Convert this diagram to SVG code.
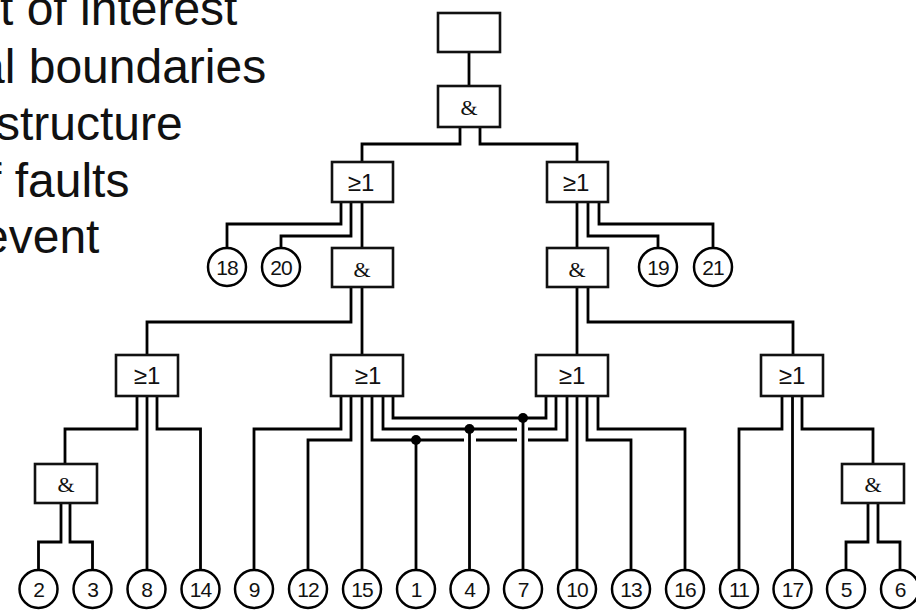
<svg xmlns="http://www.w3.org/2000/svg" width="916" height="610" viewBox="0 0 916 610">
  <style>
    .gate { fill: #fff; stroke: #111; stroke-width: 2.6; }
    .leaf { fill: #fff; stroke: #000; stroke-width: 2.5; }
    .wire { fill: none; stroke: #000; stroke-width: 2.8; stroke-linejoin: miter; stroke-linecap: butt; }
    .dot { fill: #000; }
    .or { font-family: "Liberation Sans", Arial, sans-serif; font-size: 24px; text-anchor: middle; fill: #111; }
    .and { font-family: "Liberation Serif", "Times New Roman", serif; font-size: 22px; text-anchor: middle; fill: #111; }
    .num { font-family: "Liberation Sans", Arial, sans-serif; font-size: 21px; text-anchor: middle; fill: #111; letter-spacing: -1px; }
    .bullet { font-family: "Liberation Sans", Arial, sans-serif; font-size: 48px; fill: #111; }
  </style>
  <rect width="916" height="610" fill="#fff"/>

  <!-- slide text, running off the left edge -->
  <g id="notes">
    <text class="bullet" x="0" y="25">t of interest</text>
    <text class="bullet" x="-22" y="83">al boundaries</text>
    <text class="bullet" x="-4" y="140">structure</text>
    <text class="bullet" x="-12" y="197">f faults</text>
    <text class="bullet" x="-18" y="253">event</text>
  </g>

  <!-- connectors -->
  <g id="connectors" class="wire">
    <path d="M469,52 V85"/>
    <path d="M460,127 V144 H362 V161"/>
    <path d="M480,127 V144 H577 V161"/>
    <!-- left OR, level 1 -->
    <path d="M341,202 V224 H227 V248"/>
    <path d="M351,202 V236 H281 V248"/>
    <path d="M362,202 V247"/>
    <!-- right OR, level 1 -->
    <path d="M577,202 V247"/>
    <path d="M588,202 V236 H658 V248"/>
    <path d="M599,202 V224 H713 V248"/>
    <!-- AND gates, level 2 -->
    <path d="M351,287 V322 H147 V354"/>
    <path d="M362,287 V354"/>
    <path d="M577,287 V354"/>
    <path d="M588,287 V322 H793 V354"/>
    <!-- OR a -->
    <path d="M137,396 V429 H65 V463"/>
    <path d="M147,396 V570"/>
    <path d="M157,396 V429 H200.5 V570"/>
    <!-- AND left -->
    <path d="M61,503 V542 H38.5 V570"/>
    <path d="M70,503 V542 H92.5 V570"/>
    <!-- OR b -->
    <path d="M341,396 V429 H254 V570"/>
    <path d="M351,396 V440 H308 V570"/>
    <path d="M362,396 V570"/>
    <!-- shared inputs between OR b and OR c -->
    <path d="M372,396 V440 H464"/>
    <path d="M476,440 H517"/>
    <path d="M528,440 H567 V396"/>
    <path d="M383,396 V429 H517"/>
    <path d="M528,429 H556 V396"/>
    <path d="M393,396 V418 H546 V396"/>
    <path d="M416,440 V570"/>
    <path d="M469.5,429 V570"/>
    <path d="M523,418 V570"/>
    <!-- OR c -->
    <path d="M577,396 V570"/>
    <path d="M587,396 V440 H631 V570"/>
    <path d="M598,396 V429 H685 V570"/>
    <!-- OR d -->
    <path d="M782,396 V429 H739 V570"/>
    <path d="M792.5,396 V570"/>
    <path d="M802,396 V429 H873 V463"/>
    <!-- AND right -->
    <path d="M868,503 V542 H846 V570"/>
    <path d="M878,503 V542 H900 V570"/>
  </g>
  <g id="junctions">
    <circle class="dot" cx="416" cy="440" r="5"/>
    <circle class="dot" cx="469.5" cy="429" r="5"/>
    <circle class="dot" cx="523" cy="418" r="5"/>
  </g>

  <!-- gates -->
  <g id="top"><rect class="gate" x="438" y="13" width="62" height="39"/></g>
  <g id="and0"><rect class="gate" x="438" y="86" width="62" height="41"/><text class="and" x="469" y="115">&amp;</text></g>
  <g id="or1L"><rect class="gate" x="332" y="162" width="61" height="40"/><text class="or" x="361" y="191">≥1</text></g>
  <g id="or1R"><rect class="gate" x="547" y="162" width="61" height="40"/><text class="or" x="576" y="191">≥1</text></g>
  <g id="and2L"><rect class="gate" x="332" y="248" width="61" height="39"/><text class="and" x="362" y="277">&amp;</text></g>
  <g id="and2R"><rect class="gate" x="547" y="248" width="61" height="39"/><text class="and" x="577" y="277">&amp;</text></g>
  <g id="or3a"><rect class="gate" x="116" y="355" width="62" height="41"/><text class="or" x="147" y="384">≥1</text></g>
  <g id="or3b"><rect class="gate" x="331" y="355" width="72" height="41"/><text class="or" x="368" y="384">≥1</text></g>
  <g id="or3c"><rect class="gate" x="536" y="355" width="72" height="41"/><text class="or" x="572" y="384">≥1</text></g>
  <g id="or3d"><rect class="gate" x="761" y="355" width="62" height="41"/><text class="or" x="792" y="384">≥1</text></g>
  <g id="and4L"><rect class="gate" x="35" y="464" width="62" height="39"/><text class="and" x="66" y="492">&amp;</text></g>
  <g id="and4R"><rect class="gate" x="842" y="464" width="62" height="39"/><text class="and" x="873" y="492">&amp;</text></g>

  <!-- basic events, upper row -->
  <g id="e18"><circle class="leaf" cx="227" cy="267" r="19"/><text class="num" x="227" y="275">18</text></g>
  <g id="e20"><circle class="leaf" cx="281" cy="267" r="19"/><text class="num" x="281" y="275">20</text></g>
  <g id="e19"><circle class="leaf" cx="658" cy="267" r="19"/><text class="num" x="658" y="275">19</text></g>
  <g id="e21"><circle class="leaf" cx="713" cy="267" r="19"/><text class="num" x="713" y="275">21</text></g>

  <!-- basic events, bottom row -->
  <g id="e2"><circle class="leaf" cx="38.5" cy="589" r="19"/><text class="num" x="38.5" y="597">2</text></g>
  <g id="e3"><circle class="leaf" cx="92.5" cy="589" r="19"/><text class="num" x="92.5" y="597">3</text></g>
  <g id="e8"><circle class="leaf" cx="146.5" cy="589" r="19"/><text class="num" x="146.5" y="597">8</text></g>
  <g id="e14"><circle class="leaf" cx="200.5" cy="589" r="19"/><text class="num" x="200.5" y="597">14</text></g>
  <g id="e9"><circle class="leaf" cx="254" cy="589" r="19"/><text class="num" x="254" y="597">9</text></g>
  <g id="e12"><circle class="leaf" cx="308" cy="589" r="19"/><text class="num" x="308" y="597">12</text></g>
  <g id="e15"><circle class="leaf" cx="362" cy="589" r="19"/><text class="num" x="362" y="597">15</text></g>
  <g id="e1"><circle class="leaf" cx="416" cy="589" r="19"/><text class="num" x="416" y="597">1</text></g>
  <g id="e4"><circle class="leaf" cx="469.5" cy="589" r="19"/><text class="num" x="469.5" y="597">4</text></g>
  <g id="e7"><circle class="leaf" cx="523" cy="589" r="19"/><text class="num" x="523" y="597">7</text></g>
  <g id="e10"><circle class="leaf" cx="577" cy="589" r="19"/><text class="num" x="577" y="597">10</text></g>
  <g id="e13"><circle class="leaf" cx="631" cy="589" r="19"/><text class="num" x="631" y="597">13</text></g>
  <g id="e16"><circle class="leaf" cx="685" cy="589" r="19"/><text class="num" x="685" y="597">16</text></g>
  <g id="e11"><circle class="leaf" cx="739" cy="589" r="19"/><text class="num" x="739" y="597">11</text></g>
  <g id="e17"><circle class="leaf" cx="792.5" cy="589" r="19"/><text class="num" x="792.5" y="597">17</text></g>
  <g id="e5"><circle class="leaf" cx="846" cy="589" r="19"/><text class="num" x="846" y="597">5</text></g>
  <g id="e6"><circle class="leaf" cx="900" cy="589" r="19"/><text class="num" x="900" y="597">6</text></g>
</svg>
